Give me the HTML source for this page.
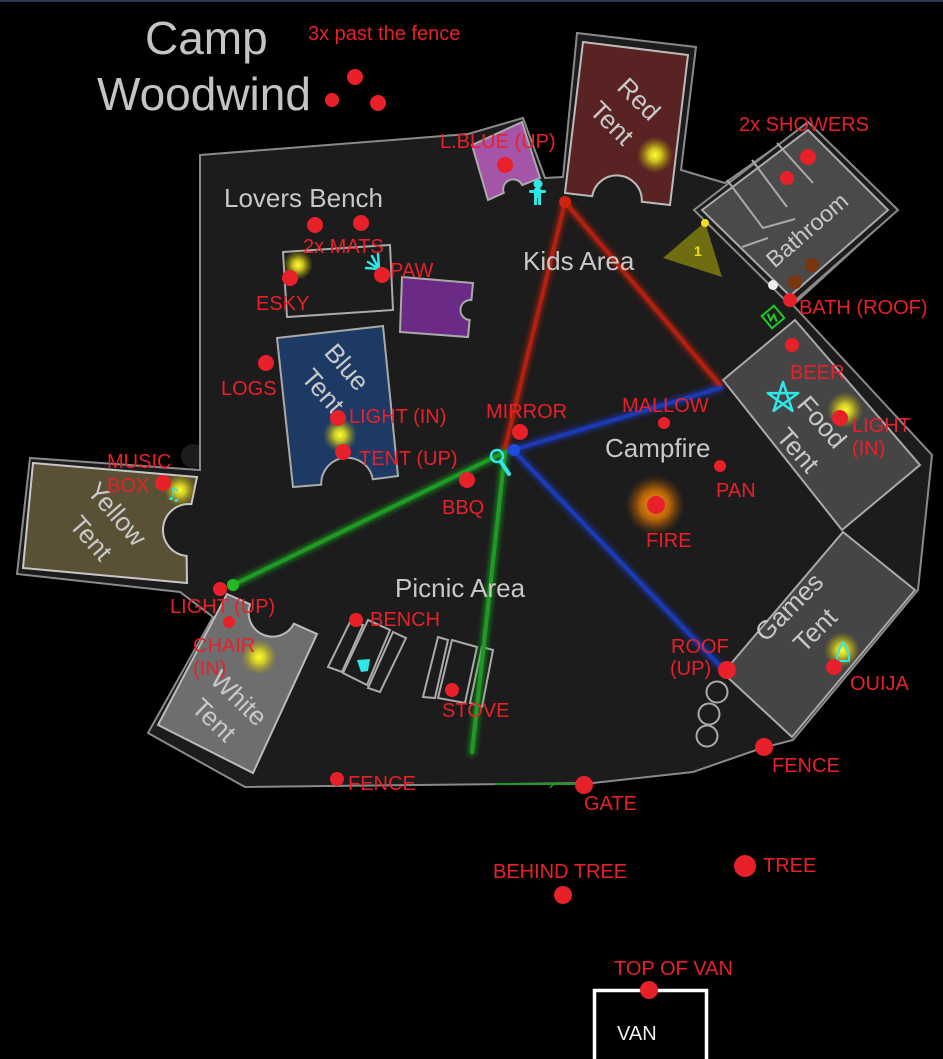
<!DOCTYPE html>
<html><head><meta charset="utf-8">
<style>
html,body{margin:0;padding:0;background:#000;width:943px;height:1059px;overflow:hidden}
svg{display:block}
.r{font-family:"Liberation Sans",Arial,sans-serif;font-size:20px;fill:#e8202a}
.g{font-family:"Liberation Sans",Arial,sans-serif;font-size:26px;fill:#c8c8c8}
.t{font-family:"Liberation Sans",Arial,sans-serif;font-size:26px;fill:#c8c8c8;text-anchor:middle;dominant-baseline:central}
</style></head><body>
<svg width="943" height="1059" viewBox="0 0 943 1059" xmlns="http://www.w3.org/2000/svg">
<defs>
 <radialGradient id="yg"><stop offset="0" stop-color="#ffff30"/><stop offset="0.35" stop-color="#e6e020" stop-opacity="0.85"/><stop offset="1" stop-color="#b0a000" stop-opacity="0"/></radialGradient>
 <radialGradient id="og"><stop offset="0" stop-color="#ffa010"/><stop offset="0.5" stop-color="#d07008" stop-opacity="0.85"/><stop offset="1" stop-color="#804000" stop-opacity="0"/></radialGradient>
 <filter id="bl" x="-50%" y="-50%" width="200%" height="200%"><feGaussianBlur stdDeviation="2.5"/></filter>
</defs>
<rect x="0" y="0" width="943" height="2" fill="#2a3a4e"/>

<!-- camp area -->
<circle cx="193" cy="456" r="12" fill="#1c1c1c"/>
<polygon points="200,155 468,134 523,118 545,178 563,177 577,33 696,47 681,170 725,183 808,124 897,210 793,305 932,455 918,590 793,740 762,748 693,772 593,783 245,787 148,733 213,617 180,592 17,574 30,458 200,470" fill="#1c1c1c" stroke="#8a8a8a" stroke-width="2" stroke-linejoin="miter"/>

<!-- title -->
<text x="145" y="54" style="font-family:'Liberation Sans',Arial,sans-serif;font-size:46px;fill:#c4c4c4">Camp</text>
<text x="97" y="110" style="font-family:'Liberation Sans',Arial,sans-serif;font-size:46px;fill:#c4c4c4">Woodwind</text>
<text x="308" y="40" class="r">3x past the fence</text>

<!-- L.Blue tent -->
<path d="M472,145 L522,122 L540,178 L522.2,185.1 A10,10 0 0 0 503.8,192.9 L488,200 Z" fill="#a455a8" stroke="#aaa" stroke-width="2"/>

<!-- Red tent -->
<path d="M583,42 L688,55 L670,205 L641.8,201.8 A25,25 0 0 0 592.2,196.2 L565,193 Z" fill="#5a2323" stroke="#bbb" stroke-width="2"/>
<circle cx="655" cy="155" r="18" fill="url(#yg)"/>
<text class="t" transform="translate(639,99) rotate(45)">Red</text>
<text class="t" transform="translate(612,123) rotate(45)">Tent</text>

<!-- Bathroom -->
<polygon points="694,210 808,122 898,210 790,305" fill="#1c1c1c" stroke="#8a8a8a" stroke-width="2"/>
<polygon points="702,210 808,130 888,210 790,296" fill="#4a4a4a" stroke="#aaa" stroke-width="2"/>
<g stroke="#aaa" stroke-width="2" fill="none">
<line x1="777" y1="143" x2="813" y2="183"/>
<line x1="752" y1="160" x2="787" y2="207"/>
<polyline points="727,180 763,228 795,219"/>
<line x1="742" y1="247" x2="768" y2="238"/>
</g>
<text class="t" style="font-size:23px" transform="translate(807,230) rotate(-41)">Bathroom</text>

<!-- Food tent -->
<polygon points="795,320 920,465 842,530 723,380" fill="#454545" stroke="#aaa" stroke-width="2"/>
<circle cx="845" cy="410" r="18" fill="url(#yg)"/>
<text class="t" transform="translate(822,422) rotate(49)">Food</text>
<text class="t" transform="translate(798,450) rotate(49)">Tent</text>

<!-- Games tent -->
<polygon points="843,532 915,590 792,737 723,673" fill="#454545" stroke="#aaa" stroke-width="2"/>
<circle cx="842" cy="650" r="18" fill="url(#yg)"/>
<text class="t" transform="translate(789,607) rotate(-45)">Games</text>
<text class="t" transform="translate(815,630) rotate(-45)">Tent</text>

<!-- Yellow tent -->
<path d="M33,463 L197,477 L191.4,504.1 A26,26 0 0 0 186.6,555.9 L187,583 L23,568 Z" fill="#5a5035" stroke="#c8c8c8" stroke-width="2"/>
<circle cx="180" cy="490" r="16" fill="url(#yg)"/>
<text class="t" transform="translate(117,514) rotate(49)">Yellow</text>
<text class="t" transform="translate(91,538) rotate(49)">Tent</text>

<!-- White tent -->
<path d="M227,594 L250.1,604.3 A24,24 0 0 0 293.9,623.7 L317,634 L253,773 L158,725 Z" fill="#6e6e6e" stroke="#bbb" stroke-width="2"/>
<circle cx="259" cy="657" r="18" fill="url(#yg)"/>
<text class="t" transform="translate(239,698) rotate(44)">White</text>
<text class="t" transform="translate(214,720) rotate(44)">Tent</text>

<!-- Blue tent -->
<path d="M277,338 L383,326 L398,476 L372.8,479.3 A26,26 0 0 0 321.2,484.7 L293,487 Z" fill="#1d3a64" stroke="#aaa" stroke-width="2"/>
<circle cx="340" cy="435" r="17" fill="url(#yg)"/>
<text class="t" transform="translate(347,367) rotate(49)">Blue</text>
<text class="t" transform="translate(323,391) rotate(49)">Tent</text>

<!-- purple small tent -->
<path d="M402,277 L473,283 L471.4,300 A10,10 0 0 0 469.6,320 L468,337 L400,332 Z" fill="#6a2a86" stroke="#aaa" stroke-width="2"/>

<!-- Lovers bench -->
<polygon points="283,252 390,245 393,310 287,317" fill="none" stroke="#aaa" stroke-width="2"/>
<circle cx="298" cy="265" r="15" fill="url(#yg)"/>

<!-- picnic benches -->
<g fill="none" stroke="#aaa" stroke-width="2">
<polygon points="328,667 350,622 363,625 342,672"/>
<polygon points="343,673 368,620 390,630 367,685"/>
<polygon points="368,688 393,632 406,638 380,692"/>
<polygon points="423,697 438,637 448,640 435,698"/>
<polygon points="438,698 452,640 477,647 465,703"/>
<polygon points="470,703 482,647 493,650 482,707"/>
<circle cx="717" cy="692" r="10.5"/>
<circle cx="709" cy="714" r="10.5"/>
<circle cx="707" cy="736" r="10.5"/>
</g>

<!-- lines -->
<g stroke-linecap="round">
<g filter="url(#bl)" opacity="0.6" stroke-width="8">
<line x1="565" y1="202" x2="505" y2="448" stroke="#c02010"/>
<line x1="565" y1="202" x2="720" y2="385" stroke="#c02010"/>
<line x1="513" y1="450" x2="720" y2="388" stroke="#1b3bc5"/>
<line x1="513" y1="450" x2="722" y2="668" stroke="#1b3bc5"/>
<line x1="505" y1="452" x2="233" y2="585" stroke="#1faa24"/>
<line x1="505" y1="452" x2="472" y2="752" stroke="#1faa24"/>
</g>
<g stroke-width="4">
<line x1="565" y1="202" x2="505" y2="448" stroke="#b3200f"/>
<line x1="565" y1="202" x2="720" y2="385" stroke="#b3200f"/>
<line x1="513" y1="450" x2="720" y2="388" stroke="#1b3bb5"/>
<line x1="513" y1="450" x2="722" y2="668" stroke="#1b3bb5"/>
<line x1="505" y1="452" x2="233" y2="585" stroke="#1f9a24"/>
<line x1="505" y1="452" x2="472" y2="752" stroke="#1f9a24"/>
</g>
</g>
<line x1="495" y1="784" x2="578" y2="784" stroke="#1f9a24" stroke-width="2"/>
<path d="M550,788 Q556,780 562,784" stroke="#1f9a24" stroke-width="1.5" fill="none"/>
<circle cx="565" cy="202" r="6" fill="#d02010"/>
<circle cx="514" cy="450" r="6" fill="#1e4be0"/>
<circle cx="233" cy="585" r="6" fill="#22bb22"/>

<!-- fire glow -->
<circle cx="655" cy="505" r="30" fill="url(#og)"/>

<!-- triangle -->
<polygon points="663,258 705,222 722,277" fill="#6e6d12"/>
<text x="694" y="256" style="font-family:'Liberation Sans',Arial,sans-serif;font-size:14px;font-weight:bold;fill:#f0e020">1</text>
<circle cx="705" cy="223" r="4" fill="#f0e020"/>

<!-- misc dots -->
<circle cx="795" cy="282" r="7" fill="#7a3510"/>
<circle cx="812" cy="265" r="7" fill="#7a3510"/>
<circle cx="773" cy="285" r="5" fill="#eee"/>

<!-- cyan icons -->
<g stroke="#2ee8e8" fill="none" stroke-width="2.5" stroke-linecap="round" stroke-linejoin="round">
<path d="M783,382 L792.4,410.9 L767.8,393.1 L798.2,393.1 L773.6,410.9 Z"/>
<circle cx="497" cy="456" r="6"/>
<line x1="501" y1="462" x2="509" y2="474" stroke-width="4"/>
<line x1="379" y1="269" x2="368" y2="262"/>
<line x1="379" y1="269" x2="372" y2="256"/>
<line x1="379" y1="269" x2="378" y2="254"/>
<line x1="379" y1="269" x2="366" y2="268"/>
<path d="M843,642 Q850,655 849,661 L837,661 Q836,655 843,642 Z" stroke-width="2"/>
</g>
<g fill="#2ee8e8">
<circle cx="538" cy="184" r="4.5"/>
<rect x="534" y="188" width="7" height="10" rx="2"/>
<rect x="529" y="190" width="17" height="3" rx="1.5"/>
<rect x="534" y="196" width="3" height="9"/>
<rect x="538" y="196" width="3" height="9"/>
<polygon points="357,660 370,659 368,671 361,672"/>
</g>
<text x="166" y="500" style="font-family:'DejaVu Sans',sans-serif;font-size:17px;fill:#2ee8e8">♫</text>
<g transform="translate(773,317) rotate(-40)">
<rect x="-8" y="-8" width="16" height="16" fill="none" stroke="#22cc22" stroke-width="2"/>
<path d="M-2,-6 L-4,1 L2,-1 L0,6" fill="none" stroke="#22cc22" stroke-width="2"/>
</g>

<!-- red dots -->
<g fill="#e8202a">
<circle cx="355" cy="77" r="8"/><circle cx="332" cy="100" r="7"/><circle cx="378" cy="103" r="8"/>
<circle cx="505" cy="165" r="8"/>
<circle cx="808" cy="157" r="8"/><circle cx="787" cy="178" r="7"/>
<circle cx="315" cy="225" r="8"/><circle cx="361" cy="223" r="8"/><circle cx="290" cy="278" r="8"/><circle cx="382" cy="275" r="8"/>
<circle cx="790" cy="300" r="7"/>
<circle cx="266" cy="363" r="8"/>
<circle cx="792" cy="345" r="7"/>
<circle cx="338" cy="418" r="8"/><circle cx="343" cy="452" r="8"/>
<circle cx="520" cy="432" r="8"/>
<circle cx="664" cy="423" r="6"/>
<circle cx="840" cy="418" r="8"/>
<circle cx="720" cy="466" r="6"/>
<circle cx="163" cy="483" r="8"/>
<circle cx="467" cy="480" r="8"/>
<circle cx="656" cy="505" r="9"/>
<circle cx="220" cy="589" r="7"/>
<circle cx="229" cy="622" r="6"/>
<circle cx="356" cy="620" r="7"/>
<circle cx="727" cy="670" r="9"/>
<circle cx="834" cy="667" r="8"/>
<circle cx="452" cy="690" r="7"/>
<circle cx="764" cy="747" r="9"/>
<circle cx="337" cy="779" r="7"/>
<circle cx="584" cy="785" r="9"/>
<circle cx="563" cy="895" r="9"/>
<circle cx="745" cy="866" r="11"/>
</g>

<!-- van -->
<rect x="594.5" y="990.5" width="112" height="80" fill="none" stroke="#fff" stroke-width="3.5"/>
<circle cx="649" cy="990" r="9" fill="#e8202a"/>
<text x="617" y="1040" style="font-family:'Liberation Sans',Arial,sans-serif;font-size:20px;fill:#eee">VAN</text>

<!-- gray labels -->
<text x="224" y="207" class="g">Lovers Bench</text>
<text x="523" y="270" class="g">Kids Area</text>
<text x="605" y="457" class="g">Campfire</text>
<text x="395" y="597" class="g">Picnic Area</text>

<!-- red labels -->
<text class="r" x="440" y="148">L.BLUE (UP)</text>
<text class="r" x="739" y="131">2x SHOWERS</text>
<text class="r" x="303" y="253">2x MATS</text>
<text class="r" x="390" y="277">PAW</text>
<text class="r" x="256" y="310">ESKY</text>
<text class="r" x="799" y="314">BATH (ROOF)</text>
<text class="r" x="221" y="395">LOGS</text>
<text class="r" x="790" y="379">BEER</text>
<text class="r" x="349" y="423">LIGHT (IN)</text>
<text class="r" x="486" y="418">MIRROR</text>
<text class="r" x="622" y="412">MALLOW</text>
<text class="r" x="852" y="432">LIGHT</text>
<text class="r" x="852" y="455">(IN)</text>
<text class="r" x="359" y="465">TENT (UP)</text>
<text class="r" x="107" y="468">MUSIC</text>
<text class="r" x="107" y="492">BOX</text>
<text class="r" x="716" y="497">PAN</text>
<text class="r" x="442" y="514">BBQ</text>
<text class="r" x="646" y="547">FIRE</text>
<text class="r" x="170" y="613">LIGHT (UP)</text>
<text class="r" x="370" y="626">BENCH</text>
<text class="r" x="193" y="652">CHAIR</text>
<text class="r" x="193" y="675">(IN)</text>
<text class="r" x="671" y="653">ROOF</text>
<text class="r" x="670" y="675">(UP)</text>
<text class="r" x="850" y="690">OUIJA</text>
<text class="r" x="442" y="717">STOVE</text>
<text class="r" x="772" y="772">FENCE</text>
<text class="r" x="348" y="790">FENCE</text>
<text class="r" x="584" y="810">GATE</text>
<text class="r" x="493" y="878">BEHIND TREE</text>
<text class="r" x="763" y="872">TREE</text>
<text class="r" x="614" y="975">TOP OF VAN</text>
</svg>
</body></html>
